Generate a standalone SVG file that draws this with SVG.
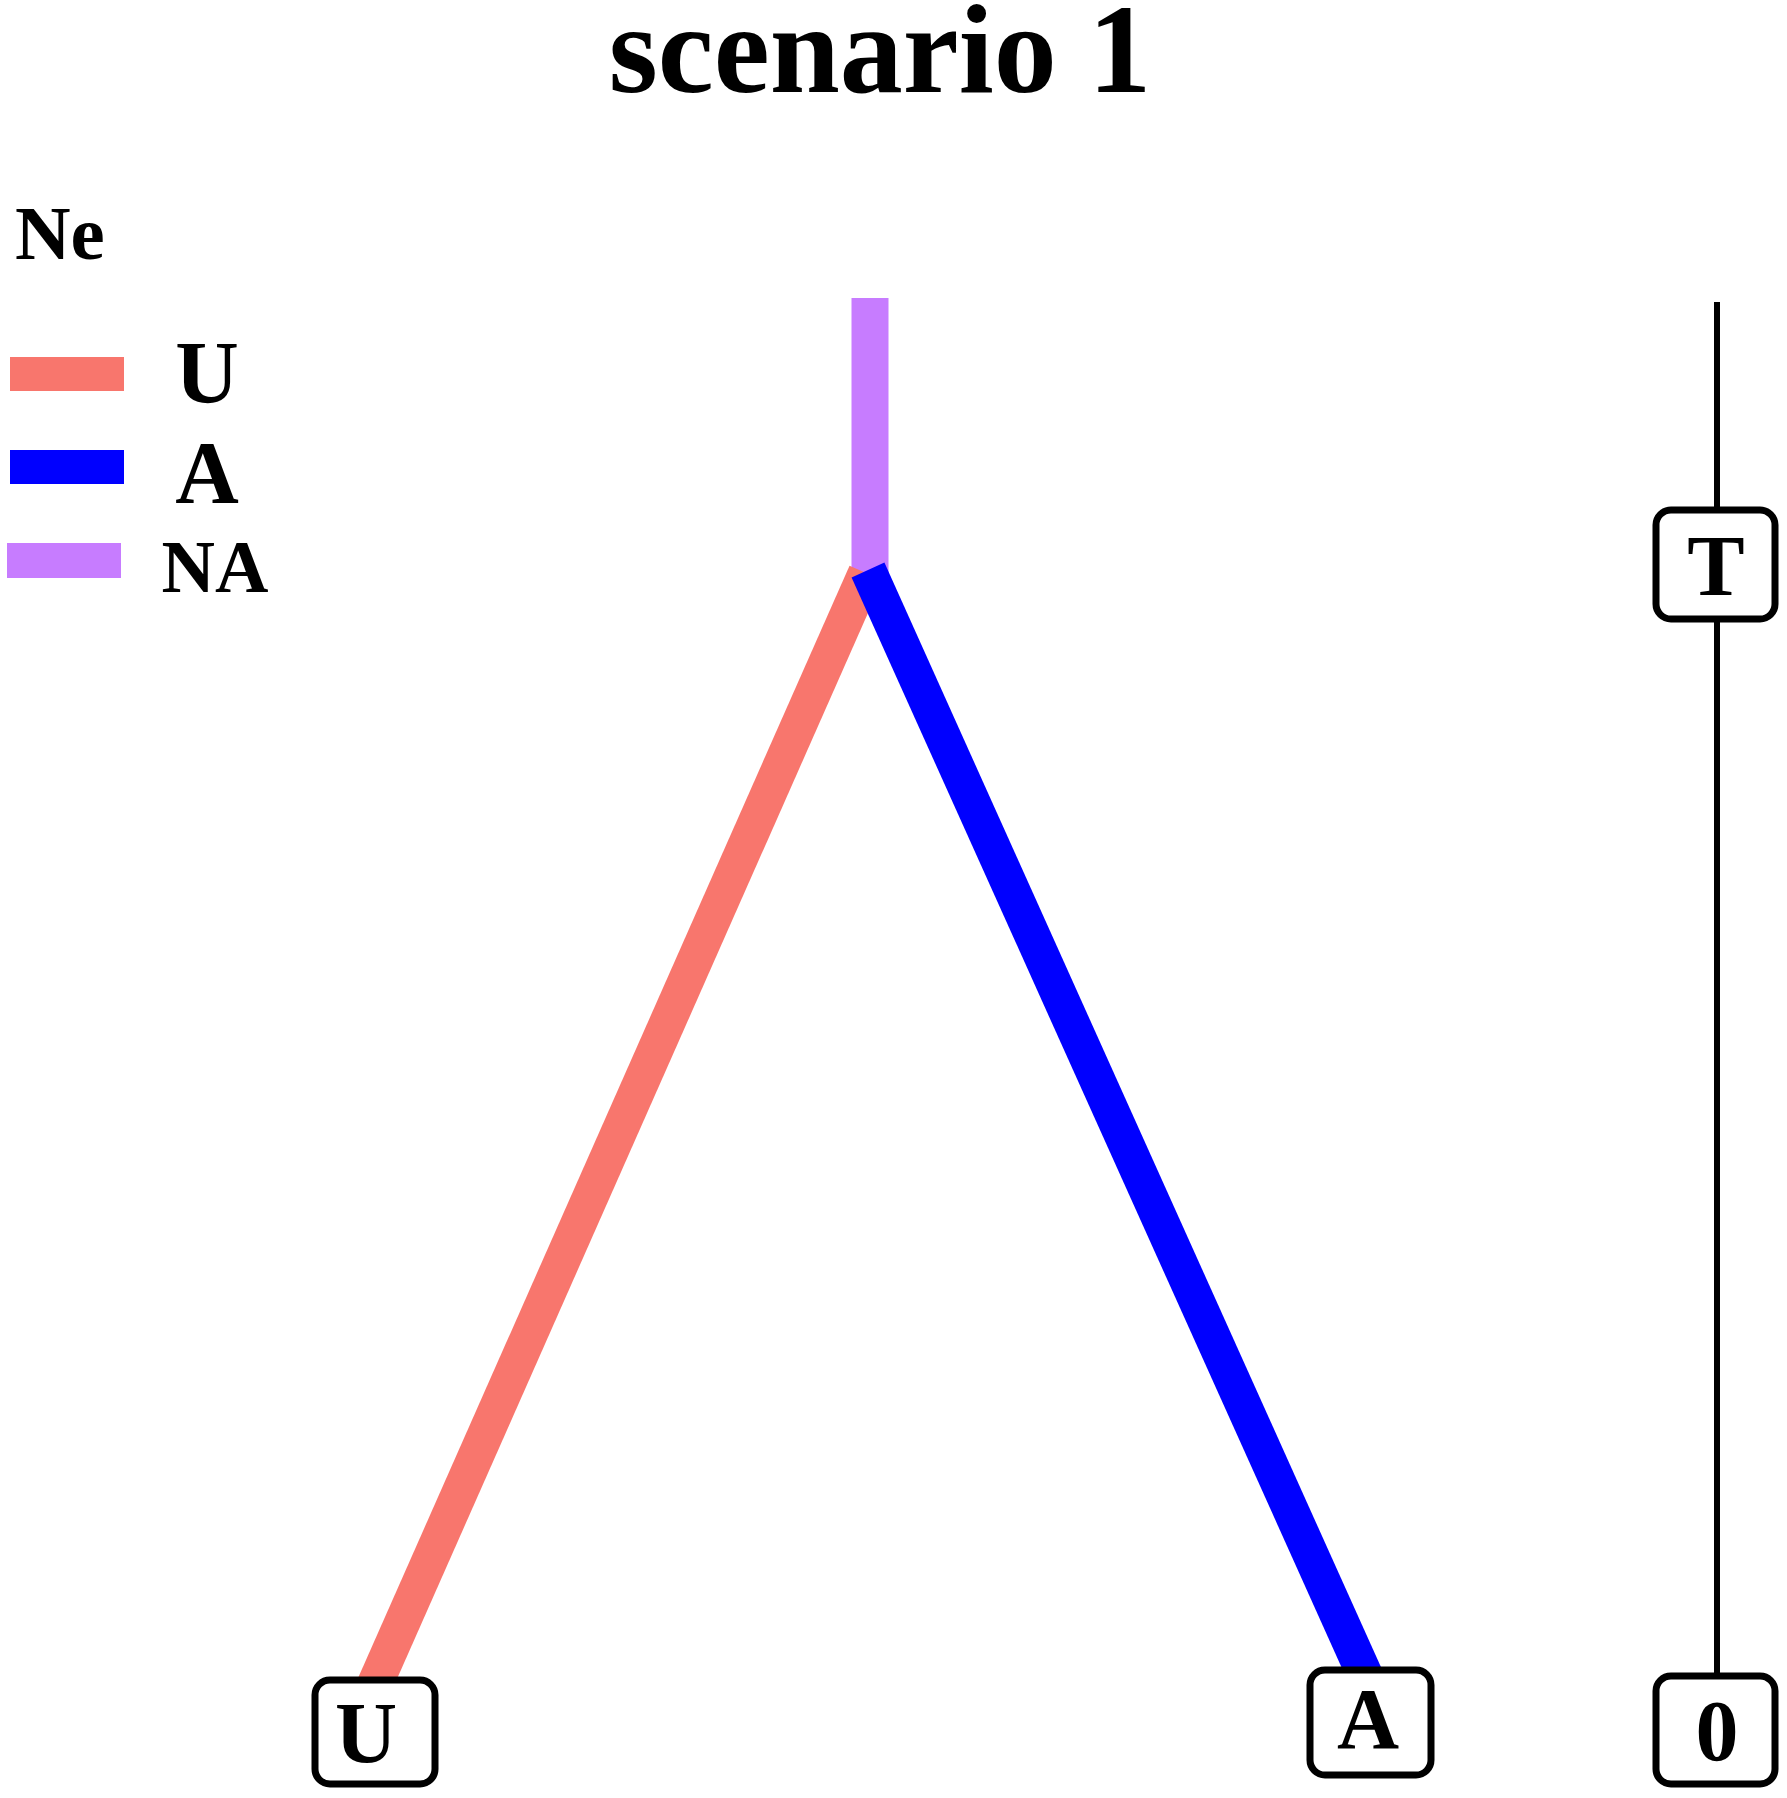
<svg xmlns="http://www.w3.org/2000/svg" width="1787" height="1798" viewBox="0 0 1787 1798">
<style>
text{font-family:"Liberation Serif","Times New Roman",serif;font-weight:bold;fill:#000}
.box{fill:#fff;stroke:#000;stroke-width:7}
.lbl{font-size:86px;text-anchor:middle}
</style>
<rect width="1787" height="1798" fill="#fff"/>
<text id="title" x="880" y="92" font-size="126" text-anchor="middle">scenario 1</text>
<g id="legend">
<text x="15" y="259" font-size="77">Ne</text>
<rect x="10" y="357" width="114" height="34" fill="#F8766D"/>
<text x="207" y="402" font-size="88" text-anchor="middle">U</text>
<rect x="10" y="450" width="114" height="34" fill="#0000FF"/>
<text x="207" y="502" font-size="88" text-anchor="middle">A</text>
<rect x="7" y="543" width="114" height="35" fill="#C77CFF"/>
<text x="215" y="592" font-size="74" text-anchor="middle">NA</text>
</g>
<g id="connectors" fill="none" stroke-linecap="butt">
<line x1="870" y1="298" x2="870" y2="578" stroke="#C77CFF" stroke-width="37"/>
<line x1="866" y1="573" x2="368" y2="1700" stroke="#F8766D" stroke-width="36"/>
<line x1="868" y1="570" x2="1376" y2="1700" stroke="#0000FF" stroke-width="36"/>
<line x1="1717" y1="302" x2="1717" y2="1680" stroke="#000" stroke-width="6"/>
</g>
<g id="node-U"><rect class="box" x="315" y="1680" width="120" height="104" rx="15"/><text class="lbl" x="366" y="1762">U</text></g>
<g id="node-A"><rect class="box" x="1310" y="1670" width="121" height="105" rx="15"/><text class="lbl" x="1368" y="1748">A</text></g>
<g id="node-T"><rect class="box" x="1656" y="510" width="119" height="109" rx="15"/><text class="lbl" x="1716" y="595">T</text></g>
<g id="node-0"><rect class="box" x="1656" y="1676" width="119" height="108" rx="15"/><text class="lbl" x="1717" y="1760">0</text></g>
</svg>
